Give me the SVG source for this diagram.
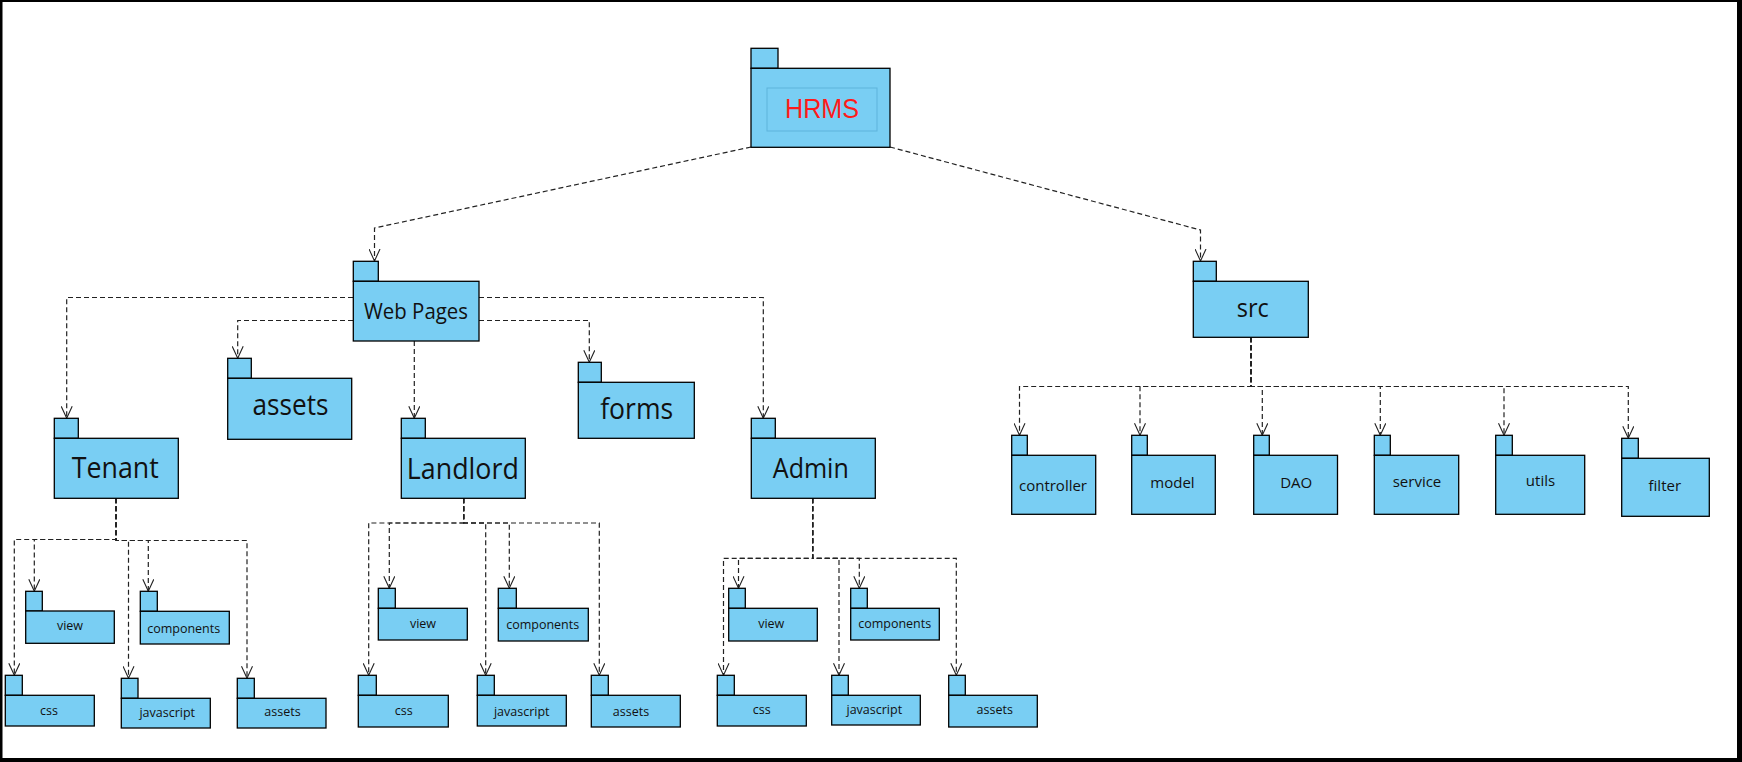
<svg xmlns="http://www.w3.org/2000/svg" width="1742" height="762" viewBox="0 0 1742 762">
  <defs>
    <marker id="open-arrow" markerUnits="userSpaceOnUse" markerWidth="14" markerHeight="12" refX="12" refY="6" orient="auto">
      <path d="M0,0.5 L12,6 L0,11.5" fill="none" stroke="#222" stroke-width="1.1" stroke-dasharray="none"/>
    </marker>
  </defs>
  <style>
    .pkg rect { fill: #79cef3; stroke: #000; stroke-width: 1.3; }
    .pkg rect.inner { fill: none; stroke: #5fb3dc; stroke-width: 1; }
    .dep { fill: none; stroke: #222; stroke-width: 1.2; stroke-dasharray: 5 3; marker-end: url(#open-arrow); }
    .lbl { font-family: "Open Sans", "Noto Sans", "DejaVu Sans", sans-serif; text-anchor: middle; fill: #111; }
    .big { font-size: 29px; }
    .mid { font-size: 15px; }
    .small { font-size: 12.5px; }
    .title { font-family: "Liberation Sans", Arial, sans-serif; font-size: 28px; fill: #ff1a1a; text-anchor: middle; }
  </style>

  <!-- page background and frame -->
  <rect x="0" y="0" width="1742" height="762" fill="#fff"/>
  <rect x="0" y="0" width="2.5" height="762" fill="#000"/>
  <rect x="0" y="0" width="1742" height="2" fill="#000"/>
  <rect x="1737" y="0" width="5" height="762" fill="#000"/>
  <rect x="0" y="758" width="1742" height="4" fill="#000"/>

  <!-- dependency connectors -->
  <g id="connectors">
    <!-- HRMS -->
    <polyline class="dep" points="751,147 374.5,228 374.5,261"/>
    <polyline class="dep" points="890,147 1200.5,230 1200.5,261"/>
    <!-- Web Pages -->
    <polyline class="dep" points="353,297.5 66.7,297.5 66.7,418.3"/>
    <polyline class="dep" points="353,320.5 237.7,320.5 237.7,358.3"/>
    <polyline class="dep" points="414.3,341 414.3,418.3"/>
    <polyline class="dep" points="479,320.5 589.3,320.5 589.3,362.3"/>
    <polyline class="dep" points="479,297.5 763.3,297.5 763.3,418.3"/>
    <!-- Tenant -->
    <polyline class="dep" points="116,498.3 116,539.5 14.3,539.5 14.3,675.3"/>
    <polyline class="dep" points="116,498.3 116,539.5 34.3,539.5 34.3,591.3"/>
    <polyline class="dep" points="116,498.3 116,540.5 128.5,540.5 128.5,678.3"/>
    <polyline class="dep" points="116,498.3 116,540.5 148.3,540.5 148.3,591.3"/>
    <polyline class="dep" points="116,498.3 116,540.5 247,540.5 247,678.3"/>
    <!-- Landlord -->
    <polyline class="dep" points="463.7,498.3 463.7,523 368.7,523 368.7,675.3"/>
    <polyline class="dep" points="463.7,498.3 463.7,523 389.3,523 389.3,588.3"/>
    <polyline class="dep" points="463.7,498.3 463.7,523 485.7,523 485.7,675.3"/>
    <polyline class="dep" points="463.7,498.3 463.7,523 509.3,523 509.3,588.3"/>
    <polyline class="dep" points="463.7,498.3 463.7,523 599.3,523 599.3,675.3"/>
    <!-- Admin -->
    <polyline class="dep" points="812.7,498.3 812.7,558.3 723.5,558.3 723.5,675.3"/>
    <polyline class="dep" points="812.7,498.3 812.7,558.3 738.5,558.3 738.5,588.3"/>
    <polyline class="dep" points="812.7,498.3 812.7,558.3 839,558.3 839,675.3"/>
    <polyline class="dep" points="812.7,498.3 812.7,558.3 859.3,558.3 859.3,588.3"/>
    <polyline class="dep" points="812.7,498.3 812.7,558.3 956.3,558.3 956.3,675.3"/>
    <!-- src -->
    <polyline class="dep" points="1251,337.3 1251,386.5 1019.5,386.5 1019.5,435.3"/>
    <polyline class="dep" points="1251,337.3 1251,386.5 1140,386.5 1140,435.3"/>
    <polyline class="dep" points="1251,337.3 1251,386.5 1262.3,386.5 1262.3,435.3"/>
    <polyline class="dep" points="1251,337.3 1251,386.5 1380.3,386.5 1380.3,435.3"/>
    <polyline class="dep" points="1251,337.3 1251,386.5 1504,386.5 1504,435.3"/>
    <polyline class="dep" points="1251,337.3 1251,386.5 1628.3,386.5 1628.3,438.3"/>
  </g>

  <!-- root package -->
  <g id="hrms" class="pkg">
    <rect x="751" y="48.3" width="27" height="20"/>
    <rect x="751" y="68.3" width="139" height="79"/>
    <rect class="inner" x="767" y="88" width="110" height="43"/>
    <text class="title" x="822" y="118" textLength="74" lengthAdjust="spacingAndGlyphs">HRMS</text>
  </g>

  <!-- second level -->
  <g id="web-pages" class="pkg">
    <rect x="353.3" y="261.3" width="25" height="20"/>
    <rect x="353.3" y="281.3" width="125.7" height="59.7"/>
    <text class="lbl" x="416" y="319" font-size="21" textLength="104" lengthAdjust="spacingAndGlyphs">Web Pages</text>
  </g>
  <g id="src" class="pkg">
    <rect x="1193.3" y="261.3" width="23" height="20"/>
    <rect x="1193.3" y="281.3" width="115" height="56"/>
    <text class="lbl" x="1252.8" y="316.7" font-size="25" textLength="32" lengthAdjust="spacingAndGlyphs">src</text>
  </g>

  <!-- Web Pages children -->
  <g id="assets-root" class="pkg">
    <rect x="227.7" y="358.3" width="23.6" height="20"/>
    <rect x="227.7" y="378.3" width="124" height="61"/>
    <text class="lbl big" x="290.5" y="415" textLength="76" lengthAdjust="spacingAndGlyphs">assets</text>
  </g>
  <g id="forms" class="pkg">
    <rect x="578.3" y="362.3" width="23" height="20"/>
    <rect x="578.3" y="382.3" width="116" height="56"/>
    <text class="lbl big" x="636.7" y="419" textLength="73" lengthAdjust="spacingAndGlyphs">forms</text>
  </g>
  <g id="tenant" class="pkg">
    <rect x="54.3" y="418.3" width="24" height="20"/>
    <rect x="54.3" y="438.3" width="124" height="60"/>
    <text class="lbl big" x="115.3" y="477.7" textLength="87" lengthAdjust="spacingAndGlyphs">Tenant</text>
  </g>
  <g id="landlord" class="pkg">
    <rect x="401.3" y="418.3" width="24" height="20"/>
    <rect x="401.3" y="438.3" width="124" height="60"/>
    <text class="lbl big" x="462.8" y="479" textLength="112" lengthAdjust="spacingAndGlyphs">Landlord</text>
  </g>
  <g id="admin" class="pkg">
    <rect x="751.3" y="418.3" width="24" height="20"/>
    <rect x="751.3" y="438.3" width="124" height="60"/>
    <text class="lbl" x="810.8" y="477.7" font-size="27" textLength="76" lengthAdjust="spacingAndGlyphs">Admin</text>
  </g>

  <!-- Tenant children -->
  <g id="tenant-view" class="pkg">
    <rect x="25.7" y="591.3" width="16.6" height="19.7"/>
    <rect x="25.7" y="611" width="88.6" height="32.3"/>
    <text class="lbl small" x="70" y="630">view</text>
  </g>
  <g id="tenant-components" class="pkg">
    <rect x="140.3" y="591.3" width="17" height="20"/>
    <rect x="140.3" y="611.3" width="89" height="32.7"/>
    <text class="lbl small" x="183.7" y="632.5">components</text>
  </g>
  <g id="tenant-css" class="pkg">
    <rect x="5.3" y="675.3" width="17" height="20"/>
    <rect x="5.3" y="695.3" width="89" height="30.7"/>
    <text class="lbl small" x="49" y="715">css</text>
  </g>
  <g id="tenant-javascript" class="pkg">
    <rect x="121.3" y="678.3" width="16.7" height="20"/>
    <rect x="121.3" y="698.3" width="89" height="29.7"/>
    <text class="lbl small" x="167.2" y="717">javascript</text>
  </g>
  <g id="tenant-assets" class="pkg">
    <rect x="237.3" y="678.3" width="17" height="20"/>
    <rect x="237.3" y="698.3" width="88.7" height="29.7"/>
    <text class="lbl small" x="282.5" y="716">assets</text>
  </g>

  <!-- Landlord children -->
  <g id="landlord-view" class="pkg">
    <rect x="378.3" y="588.3" width="17" height="20"/>
    <rect x="378.3" y="608.3" width="89" height="31.7"/>
    <text class="lbl small" x="423" y="627.7">view</text>
  </g>
  <g id="landlord-components" class="pkg">
    <rect x="498.3" y="588.3" width="18" height="20"/>
    <rect x="498.3" y="608.3" width="90" height="32.7"/>
    <text class="lbl small" x="542.7" y="629">components</text>
  </g>
  <g id="landlord-css" class="pkg">
    <rect x="358.3" y="675.3" width="18" height="20"/>
    <rect x="358.3" y="695.3" width="90" height="31.7"/>
    <text class="lbl small" x="403.7" y="715">css</text>
  </g>
  <g id="landlord-javascript" class="pkg">
    <rect x="477.3" y="675.3" width="17" height="20"/>
    <rect x="477.3" y="695.3" width="89" height="30.7"/>
    <text class="lbl small" x="521.7" y="716">javascript</text>
  </g>
  <g id="landlord-assets" class="pkg">
    <rect x="591.3" y="675.3" width="17" height="20"/>
    <rect x="591.3" y="695.3" width="89" height="31.7"/>
    <text class="lbl small" x="631" y="716">assets</text>
  </g>

  <!-- Admin children -->
  <g id="admin-view" class="pkg">
    <rect x="728.7" y="588.3" width="16.6" height="20"/>
    <rect x="728.7" y="608.3" width="88.6" height="32.7"/>
    <text class="lbl small" x="771.2" y="627.7">view</text>
  </g>
  <g id="admin-components" class="pkg">
    <rect x="850.7" y="588.3" width="16.6" height="20"/>
    <rect x="850.7" y="608.3" width="88.6" height="31.7"/>
    <text class="lbl small" x="894.7" y="627.7">components</text>
  </g>
  <g id="admin-css" class="pkg">
    <rect x="717.3" y="675.3" width="17" height="20"/>
    <rect x="717.3" y="695.3" width="89" height="30.7"/>
    <text class="lbl small" x="761.7" y="714">css</text>
  </g>
  <g id="admin-javascript" class="pkg">
    <rect x="831.7" y="675.3" width="16.6" height="20"/>
    <rect x="831.7" y="695.3" width="88.6" height="29.7"/>
    <text class="lbl small" x="874.3" y="714">javascript</text>
  </g>
  <g id="admin-assets" class="pkg">
    <rect x="948.7" y="675.3" width="16.6" height="20"/>
    <rect x="948.7" y="695.3" width="88.6" height="31.7"/>
    <text class="lbl small" x="994.7" y="714">assets</text>
  </g>

  <!-- src children -->
  <g id="controller" class="pkg">
    <rect x="1011.7" y="435.3" width="15.6" height="20"/>
    <rect x="1011.7" y="455.3" width="84" height="59"/>
    <text class="lbl mid" x="1053" y="490.7">controller</text>
  </g>
  <g id="model" class="pkg">
    <rect x="1131.7" y="435.3" width="15.6" height="20"/>
    <rect x="1131.7" y="455.3" width="83.6" height="59"/>
    <text class="lbl mid" x="1172.5" y="488.3">model</text>
  </g>
  <g id="dao" class="pkg">
    <rect x="1253.7" y="435.3" width="15.6" height="20"/>
    <rect x="1253.7" y="455.3" width="83.8" height="59"/>
    <text class="lbl mid" x="1296.2" y="487.7">DAO</text>
  </g>
  <g id="service" class="pkg">
    <rect x="1374.3" y="435.3" width="16" height="20"/>
    <rect x="1374.3" y="455.3" width="84.4" height="59"/>
    <text class="lbl mid" x="1417" y="486.7">service</text>
  </g>
  <g id="utils" class="pkg">
    <rect x="1495.7" y="435.3" width="16.6" height="20"/>
    <rect x="1495.7" y="455.3" width="89" height="59"/>
    <text class="lbl mid" x="1540.5" y="485.7">utils</text>
  </g>
  <g id="filter" class="pkg">
    <rect x="1621.7" y="438.3" width="16.6" height="20"/>
    <rect x="1621.7" y="458.3" width="87.6" height="58"/>
    <text class="lbl mid" x="1664.8" y="491">filter</text>
  </g>
</svg>
